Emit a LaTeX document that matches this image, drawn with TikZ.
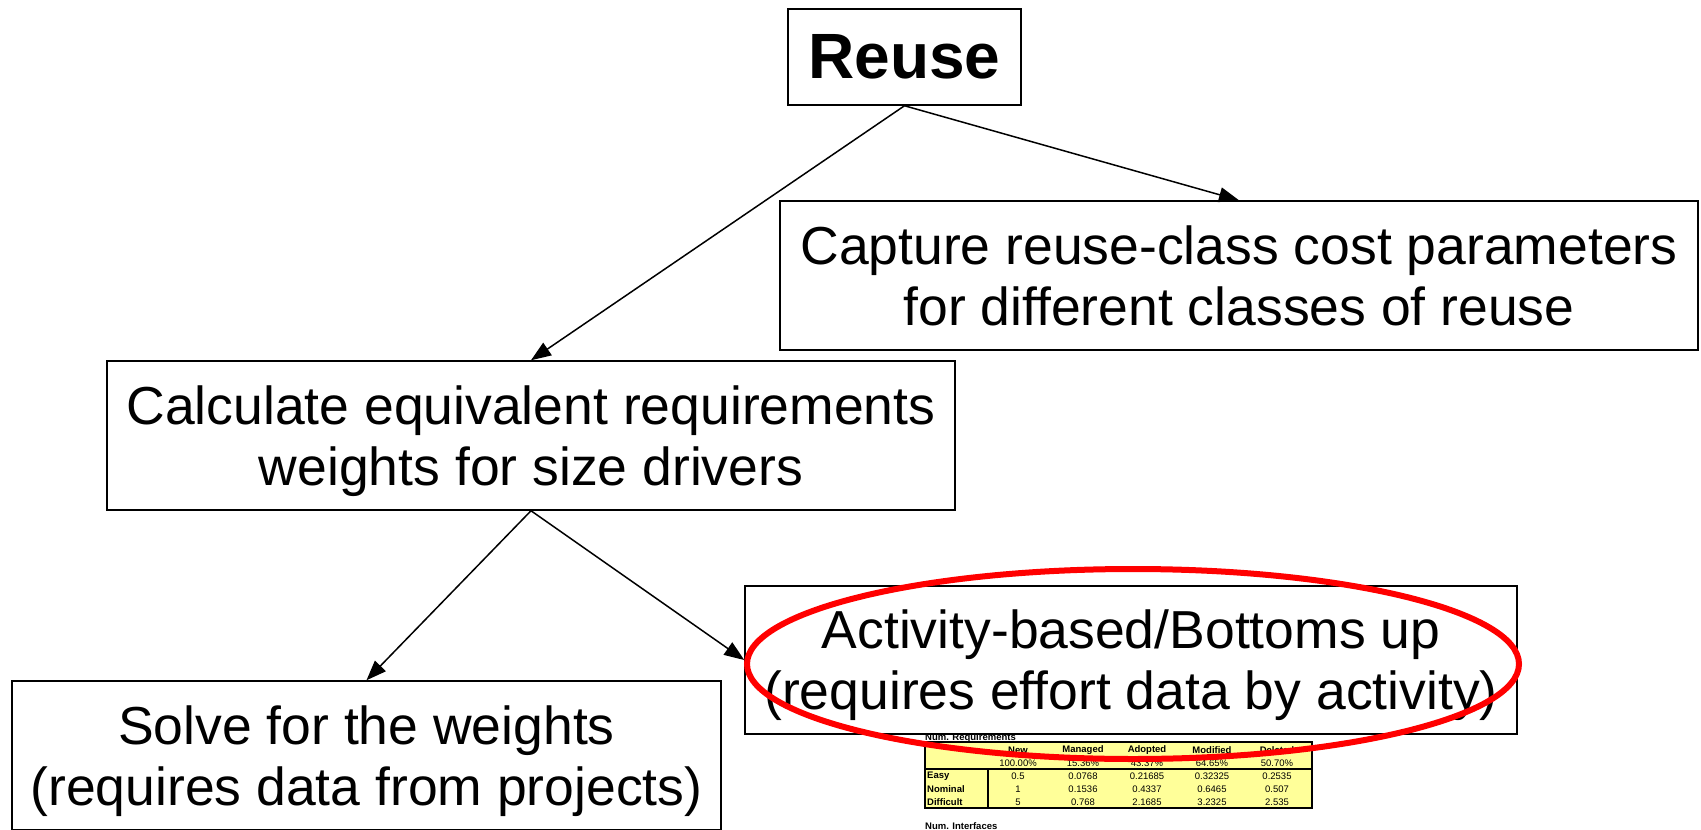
\documentclass[tikz,border=0pt]{standalone}
\usepackage{fontspec}
\setmainfont{Liberation Sans}
\usetikzlibrary{arrows.meta}
\definecolor{tableyellow}{HTML}{FFFF99}

\tikzset{
  box/.style={draw, line width=1.5pt, fill=white, align=center, inner sep=0pt,
    font=\fontsize{53.5}{61}\selectfont},
  link/.style={line width=1.5pt, -{Triangle[length=20pt,width=15pt]}},
  cell/.style={inner sep=0pt, font=\fontsize{9.5}{11}\selectfont},
  head/.style={inner sep=0pt, font=\fontsize{9.5}{11}\selectfont\bfseries},
}

\begin{document}
\begin{tikzpicture}[x=1pt,y=-1pt]
	\useasboundingbox (0,0) rectangle (1701,830);
	\clip (0,0) rectangle (1701,830);
	% small spreadsheet under the activity box
	\node[head, anchor=west] (numreq) at (925,738) {Num. Requirements};
	\draw[line width=1.5pt, fill=tableyellow] (925,742) rectangle (1312,808);
	\draw[line width=2pt] (925,769) -- (1312,769);
	\draw[line width=1.5pt] (988,769) -- (988,808);
	\node[head, anchor=west] (easy) at (927,776) {Easy};
	\node[head, anchor=west] (nominal) at (927,789) {Nominal};
	\node[head, anchor=west] (difficult) at (927,802) {Difficult};
	\foreach \x/\h/\p/\e/\n/\d [count=\i] in {1018/New/100.00\%/0.5/1/5,
	    1083/Managed/15.36\%/0.0768/0.1536/0.768,
	    1147/Adopted/43.37\%/0.21685/0.4337/2.1685,
	    1212/Modified/64.65\%/0.32325/0.6465/3.2325,
	    1277/Deleted/50.70\%/0.2535/0.507/2.535}{
		\node[head] (h\i) at (\x,750) {\h};
		\node[cell] (p\i) at (\x,763) {\p};
		\node[cell] (e\i) at (\x,776) {\e};
		\node[cell] (n\i) at (\x,789) {\n};
		\node[cell] (d\i) at (\x,802) {\d};
	}
	\node[head, anchor=west] (numint) at (925,826) {Num. Interfaces};
	% boxes
	\node[box, minimum width=233pt, minimum height=96pt,
	  font=\fontsize{64}{72}\selectfont\bfseries] (reuse) at (904.5,57) {Reuse};
	\node[box, minimum width=918pt, minimum height=149pt] (capture) at (1239,275.5)
	  {Capture reuse-class cost parameters\\\smash{for different classes of reuse}};
	\node[box, minimum width=848pt, minimum height=149pt] (calc) at (531,435.5)
	  {Calculate equivalent requirements\\\smash{weights for size drivers}};
	\node[box, minimum width=709pt, minimum height=149pt] (solve) at (366.5,755.5)
	  {Solve for the weights\\\smash{(requires data from projects)}};
	\node[box, minimum width=772pt, minimum height=148pt] (activity) at (1131,660)
	  {Activity-based/Bottoms up\\\smash{(requires effort data by activity)}};
	% arrows
	\draw[link] (reuse.south) -- (calc.north);
	\draw[link] (reuse.south) -- (capture.north);
	\draw[link] (calc.south) -- (solve.north);
	\draw[link] (calc.south) -- (activity.west);
	% highlight
	\draw[red, line width=6pt] (1133,664) ellipse [x radius=386pt, y radius=95pt];
\end{tikzpicture}
\end{document}
